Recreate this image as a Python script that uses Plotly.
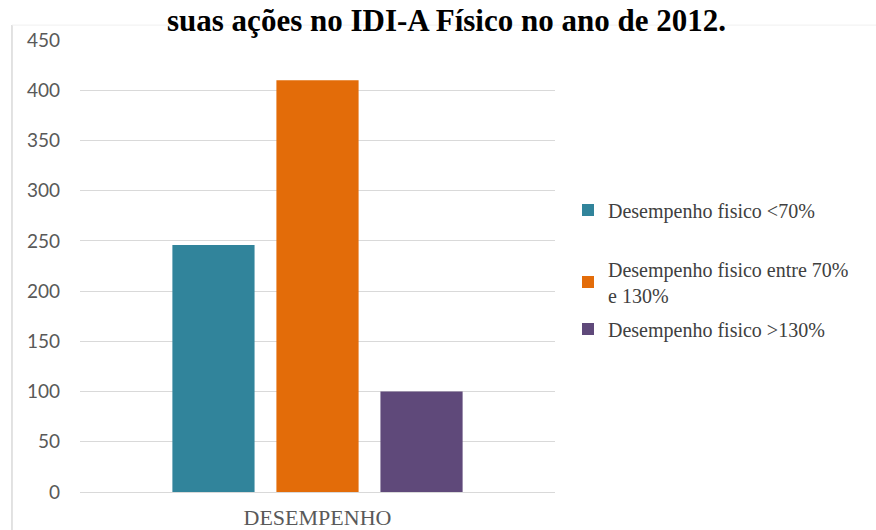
import plotly.graph_objects as go

categories = ["DESEMPENHO"]
series_names = ["Desempenho fisico <70%", "Desempenho fisico entre 70%<br>e 130%", "Desempenho fisico >130%"]
series_values = [[246], [410], [100]]
series_colors = ["#31849B", "#E36C09", "#5F497A"]
y_ticks = [0, 50, 100, 150, 200, 250, 300, 350, 400, 450]
title_text = "suas ações no IDI-A Físico no ano de 2012."

legend_ids = ["legend", "legend2", "legend3"]
fig = go.Figure()
for name, vals, col, lg in zip(series_names, series_values, series_colors, legend_ids):
    fig.add_trace(go.Bar(x=categories, y=vals, name=name, legend=lg,
                         marker=dict(color=col, line=dict(width=0))))

leg_font = dict(family="Liberation Serif", size=20, color="#404040")
def px_y(p):
    return (492 - p) / 452
leg_x = (568 - 80) / 475

fig.update_layout(
    width=876, height=530,
    margin=dict(l=80, r=321, t=40, b=38, autoexpand=False),
    paper_bgcolor="white", plot_bgcolor="white",
    barmode="group", bargap=0.343, bargroupgap=0.21,
    showlegend=True,
    legend=dict(x=leg_x, y=px_y(210), xanchor="left", yanchor="middle", font=leg_font,
                bgcolor="rgba(0,0,0,0)"),
    legend2=dict(x=leg_x, y=px_y(282), xanchor="left", yanchor="middle", font=leg_font,
                 bgcolor="rgba(0,0,0,0)"),
    legend3=dict(x=leg_x, y=px_y(329), xanchor="left", yanchor="middle", font=leg_font,
                 bgcolor="rgba(0,0,0,0)"),
    xaxis=dict(showgrid=False, showline=False, ticks="", ticklabelstandoff=10, automargin=False,
               tickfont=dict(family="Liberation Serif", size=22, color="#595959")),
    yaxis=dict(range=[0, 450], tickvals=y_ticks, showgrid=True, gridcolor="#D9D9D9", gridwidth=1,
               zeroline=True, zerolinecolor="#D9D9D9", zerolinewidth=1, showline=False, ticks="",
               ticklabelstandoff=19, automargin=False,
               tickfont=dict(family="Lato", size=19, color="#595959")),
    annotations=[dict(text=f"<b>{title_text}</b>", xref="paper", yref="paper", x=0.7726, y=1.0442,
                      xanchor="center", yanchor="middle", showarrow=False,
                      font=dict(family="Liberation Serif", size=31, color="black"))],
    shapes=[
        dict(type="line", xref="paper", yref="paper", x0=-0.1432, x1=-0.1432, y0=1.033, y1=-0.1,
             line=dict(color="#D9D9D9", width=1.5)),
        dict(type="line", xref="paper", yref="paper", x0=-0.1432, x1=1.7, y0=1.033, y1=1.033,
             line=dict(color="#F0F0F0", width=1)),
    ],
)

fig.write_html("out.html", config={"displayModeBar": False},
               post_script="document.body.style.margin='0';")
